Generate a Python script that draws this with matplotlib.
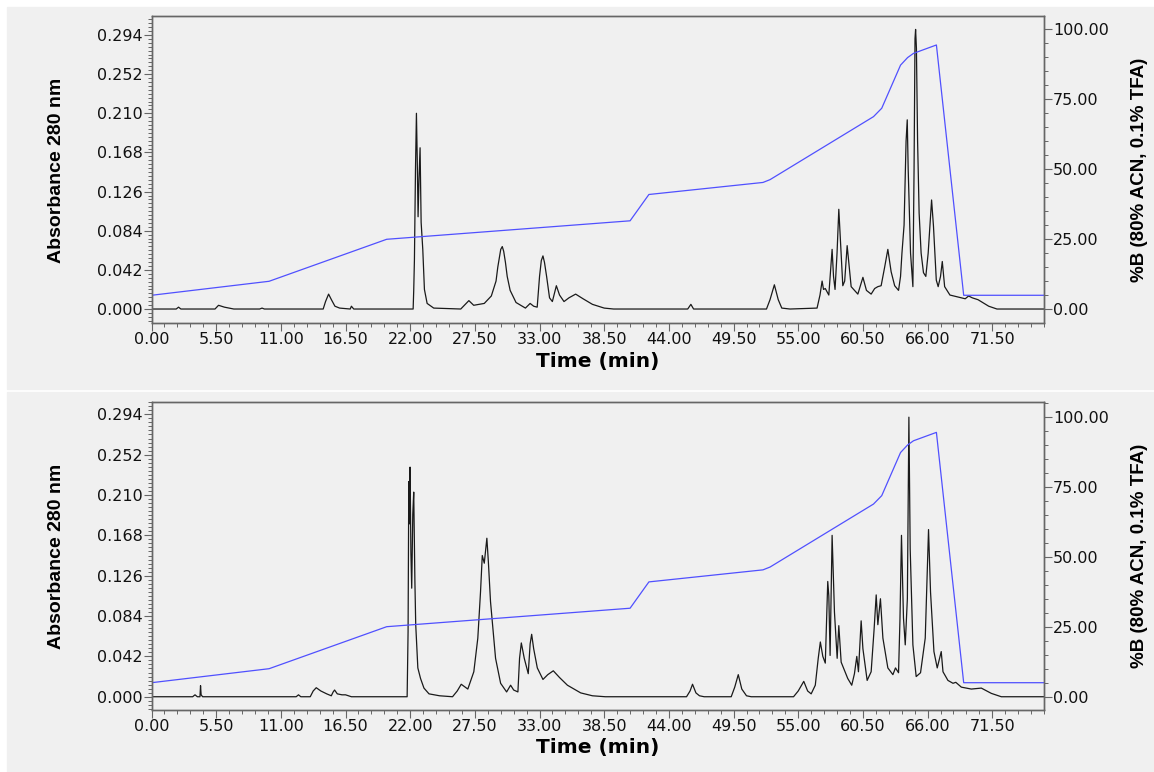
"""Dos cromatogramas HPLC (Abs 280 nm) con el gradiente %B superpuesto."""

import matplotlib.pyplot as plt
from matplotlib.patches import Rectangle
from matplotlib.ticker import MultipleLocator, FormatStrFormatter

# --- datos ---------------------------------------------------------------
# cromatograma superior: tiempo (min) / absorbancia
t_sup = [0.0, 2.1, 2.3, 2.5, 5.4, 5.7, 6.2, 7.0, 9.2, 9.4, 9.6, 14.6, 14.8, 15.06,
         15.3, 15.6, 16.0, 16.9, 17.0, 17.2, 22.25, 22.30, 22.36, 22.45, 22.53,
         22.60, 22.67, 22.75, 22.84, 22.93, 23.07, 23.21, 23.44, 24.0, 26.3, 26.99,
         27.4, 28.3, 28.9, 29.3, 29.45, 29.7, 29.83, 29.95, 30.1, 30.25, 30.5,
         31.0, 31.8, 32.2, 32.5, 32.8, 33.0, 33.15, 33.29, 33.42, 33.6, 33.85,
         34.09, 34.43, 34.7, 35.08, 35.5, 36.07, 36.7, 37.5, 38.5, 39.3, 45.6,
         45.87, 46.1, 52.3, 52.6, 52.97, 53.3, 53.6, 54.3, 56.6, 56.85, 57.03,
         57.15, 57.3, 57.6, 57.88, 58.0, 58.13, 58.3, 58.45, 58.65, 58.79, 58.95,
         59.16, 59.5, 60.07, 60.5, 60.8, 61.2, 61.5, 61.77, 62.05, 62.35, 62.62,
         62.9, 63.2, 63.53, 63.7, 63.82, 64.0, 64.17, 64.27, 64.35, 64.55, 64.75,
         64.85, 64.93, 64.98, 65.05, 65.15, 65.28, 65.45, 65.65, 65.85, 66.05,
         66.2, 66.34, 66.5, 66.74, 66.9, 67.1, 67.25, 67.45, 67.9, 68.87, 69.2,
         69.49, 69.8, 70.29, 70.8, 71.2, 71.9, 75.9]
abs_sup = [0.000, 0.000, 0.002, 0.000, 0.000, 0.004, 0.002, 0.000, 0.000, 0.001,
           0.000, 0.000, 0.008, 0.016, 0.010, 0.003, 0.001, 0.000, 0.003, 0.000,
           0.000, 0.020, 0.053, 0.150, 0.210, 0.160, 0.099, 0.140, 0.173, 0.093,
           0.064, 0.021, 0.006, 0.001, 0.000, 0.009, 0.004, 0.006, 0.014, 0.030,
           0.045, 0.064, 0.067, 0.062, 0.050, 0.035, 0.020, 0.007, 0.001, 0.006,
           0.003, 0.002, 0.035, 0.052, 0.057, 0.050, 0.035, 0.012, 0.008, 0.025,
           0.015, 0.008, 0.012, 0.016, 0.011, 0.005, 0.001, 0.000, 0.000, 0.005,
           0.000, 0.000, 0.010, 0.026, 0.010, 0.001, 0.000, 0.001, 0.015, 0.030,
           0.021, 0.022, 0.015, 0.064, 0.035, 0.021, 0.060, 0.107, 0.060, 0.025,
           0.030, 0.068, 0.024, 0.016, 0.034, 0.020, 0.016, 0.022, 0.024, 0.025,
           0.045, 0.064, 0.040, 0.025, 0.020, 0.035, 0.060, 0.090, 0.180, 0.203,
           0.150, 0.060, 0.024, 0.150, 0.290, 0.300, 0.280, 0.180, 0.103, 0.060,
           0.039, 0.035, 0.060, 0.089, 0.117, 0.089, 0.031, 0.024, 0.035, 0.051,
           0.024, 0.015, 0.012, 0.011, 0.014, 0.012, 0.010, 0.006, 0.003, 0.000,
           0.000]

# cromatograma inferior
t_inf = [0.0, 3.5, 3.7, 3.9, 4.12, 4.17, 4.22, 4.35, 12.3, 12.5, 12.7, 13.5, 13.75,
         14.01, 14.4, 14.9, 15.29, 15.45, 15.57, 15.8, 16.2, 16.5, 17.0, 21.74,
         21.82, 21.88, 21.94, 21.99, 22.06, 22.13, 22.22, 22.30, 22.40, 22.47,
         22.65, 22.88, 23.17, 23.6, 24.5, 25.6, 26.0, 26.34, 26.9, 27.41, 27.75,
         27.98, 28.13, 28.30, 28.52, 28.65, 28.83, 29.26, 29.69, 30.2, 30.54,
         30.8, 31.16, 31.3, 31.45, 31.7, 32.04, 32.2, 32.33, 32.5, 32.81, 33.29,
         33.7, 34.17, 34.7, 35.37, 36.5, 37.5, 38.6, 45.5, 45.8, 46.01, 46.3,
         46.6, 47.0, 49.3, 49.6, 49.9, 50.2, 50.6, 51.0, 54.6, 55.0, 55.47, 55.8,
         56.1, 56.45, 56.7, 56.88, 57.09, 57.3, 57.51, 57.6, 57.71, 57.88, 58.08,
         58.31, 58.45, 58.65, 58.85, 59.21, 59.55, 59.78, 59.98, 60.12, 60.35,
         60.5, 60.86, 61.2, 61.45, 61.63, 61.77, 61.99, 62.2, 62.62, 63.05, 63.27,
         63.53, 63.65, 63.78, 63.95, 64.1, 64.28, 64.41, 64.52, 64.75, 65.03,
         65.4, 65.8, 66.08, 66.25, 66.54, 66.82, 67.16, 67.31, 67.73, 68.16, 68.4,
         68.87, 69.72, 70.57, 71.42, 72.27, 75.9]
abs_inf = [0.000, 0.000, 0.002, 0.000, 0.000, 0.0115, 0.002, 0.000, 0.000, 0.002,
           0.000, 0.000, 0.006, 0.0094, 0.006, 0.003, 0.001, 0.005, 0.007, 0.003,
           0.002, 0.002, 0.000, 0.000, 0.068, 0.224, 0.180, 0.239, 0.150, 0.113,
           0.190, 0.213, 0.120, 0.075, 0.030, 0.019, 0.009, 0.003, 0.001, 0.000,
           0.006, 0.013, 0.008, 0.026, 0.061, 0.109, 0.147, 0.139, 0.165, 0.140,
           0.099, 0.040, 0.014, 0.005, 0.012, 0.007, 0.005, 0.040, 0.056, 0.040,
           0.024, 0.055, 0.065, 0.050, 0.030, 0.018, 0.023, 0.027, 0.020, 0.012,
           0.004, 0.001, 0.000, 0.000, 0.006, 0.013, 0.004, 0.001, 0.000, 0.000,
           0.010, 0.023, 0.008, 0.001, 0.000, 0.000, 0.006, 0.016, 0.006, 0.003,
           0.012, 0.040, 0.057, 0.042, 0.035, 0.120, 0.105, 0.043, 0.168, 0.088,
           0.040, 0.074, 0.036, 0.030, 0.019, 0.012, 0.024, 0.042, 0.026, 0.079,
           0.050, 0.017, 0.026, 0.070, 0.106, 0.075, 0.102, 0.061, 0.030, 0.023,
           0.030, 0.025, 0.080, 0.168, 0.082, 0.054, 0.102, 0.291, 0.154, 0.054,
           0.021, 0.025, 0.061, 0.174, 0.109, 0.047, 0.030, 0.047, 0.026, 0.017,
           0.014, 0.015, 0.010, 0.008, 0.009, 0.0035, 0.000, 0.000]

# gradiente (%B), el mismo programa en ambas corridas
t_grad = [0.0, 10.0, 20.0, 40.7, 42.3, 52.0, 52.6, 53.5, 61.4, 62.1, 63.7, 64.3,
          64.8, 66.75, 69.07, 75.9]
pct_b = [5.0, 10.0, 25.0, 31.6, 41.0, 45.3, 46.3, 48.6, 68.8, 71.8, 87.2, 89.9,
         91.4, 94.4, 5.0, 5.0]

FONDO = "#f0f0f0"
EJE = "#666666"
AZUL = "#5050ff"
ROT = ["Liberation Sans", "DejaVu Sans"]

W, H = 1154, 772
fig = plt.figure(figsize=(W / 100, H / 100), dpi=100, facecolor="white")
# paneles grises con la franja blanca entre ambos
fig.add_artist(Rectangle((7 / W, 1 - 389 / H), 1 - 7 / W, 382 / H,
                         transform=fig.transFigure, color=FONDO, zorder=0))
fig.add_artist(Rectangle((7 / W, 0), 1 - 7 / W, 1 - 392 / H,
                         transform=fig.transFigure, color=FONDO, zorder=0))


def panel(rect, t, a, ylim, ylim_b, y_lab, y_time):
    ax = fig.add_axes(rect, facecolor=FONDO)
    ax.plot(t, a, color="#1a1a1a", lw=0.9)
    ax.set_xlim(0, 75.9)
    ax.set_ylim(*ylim)
    ax.xaxis.set_major_locator(MultipleLocator(5.5))
    ax.xaxis.set_minor_locator(MultipleLocator(1.1))
    ax.xaxis.set_major_formatter(FormatStrFormatter("%.2f"))
    ax.yaxis.set_major_locator(MultipleLocator(0.042))
    ax.yaxis.set_minor_locator(MultipleLocator(0.0042))
    ax.yaxis.set_major_formatter(FormatStrFormatter("%.3f"))

    ax2 = ax.twinx()
    ax2.plot(t_grad, pct_b, color=AZUL, lw=0.9)
    ax2.set_ylim(*ylim_b)
    ax2.yaxis.set_major_locator(MultipleLocator(25))
    ax2.yaxis.set_minor_locator(MultipleLocator(5))
    ax2.yaxis.set_major_formatter(FormatStrFormatter("%.2f"))

    for a_ in (ax, ax2):
        for s in a_.spines.values():
            s.set_color(EJE)
            s.set_linewidth(1)
        a_.tick_params(which="major", direction="out", length=6, width=0.8,
                       color=EJE, labelsize=11.5, pad=0.5, labelcolor="#111111")
        a_.tick_params(which="minor", direction="out", length=3, width=0.7,
                       color=EJE)

    fig.text(57 / W, 1 - y_lab / H, "Absorbance 280 nm", rotation=90,
             ha="center", va="center", fontsize=14, fontweight="bold",
             family=ROT)
    fig.text(1140 / W, 1 - y_lab / H, "%B (80% ACN, 0.1% TFA)", rotation=90,
             ha="center", va="center", fontsize=13.5, fontweight="bold",
             family=ROT)
    fig.text(598 / W, 1 - y_time / H, "Time (min)", ha="center",
             va="center", fontsize=14.5, fontweight="bold")
    return ax


panel([151.5 / W, 1 - 323 / H, 892.5 / W, 307 / H], t_sup, abs_sup,
      (-0.015, 0.3144), (-4.9, 104.75), 170, 361.5)
panel([151.5 / W, 1 - 710 / H, 892.5 / W, 308 / H], t_inf, abs_inf,
      (-0.0138, 0.3068), (-4.75, 105.25), 556, 748)

fig.savefig("out.png", dpi=100, facecolor=fig.get_facecolor())
